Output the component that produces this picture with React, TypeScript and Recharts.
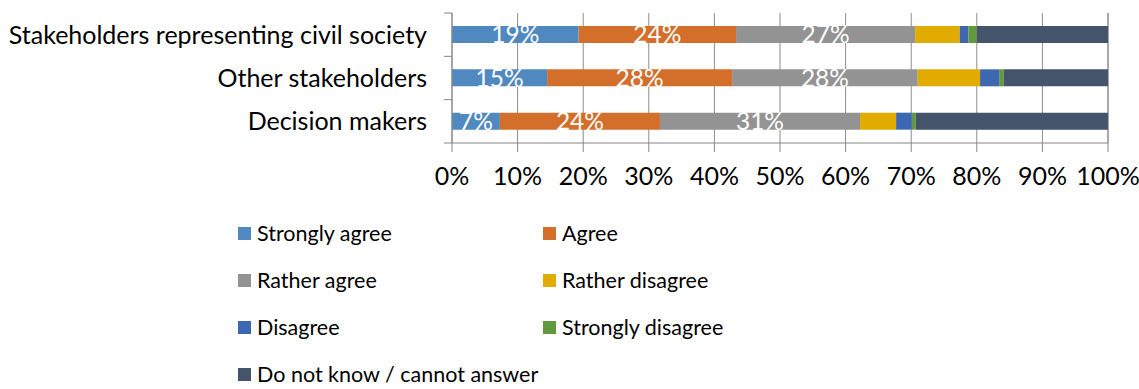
import React from "react";
import {
  BarChart,
  Bar,
  XAxis,
  YAxis,
  CartesianGrid,
  Legend,
  LabelList,
} from "recharts";

const CATEGORIES = [
  "Stakeholders representing civil society",
  "Other stakeholders",
  "Decision makers",
];

const SERIES = [
  { key: "stronglyAgree", label: "Strongly agree", color: "#4F89BF" },
  { key: "agree", label: "Agree", color: "#D46F2B" },
  { key: "ratherAgree", label: "Rather agree", color: "#939393" },
  { key: "ratherDisagree", label: "Rather disagree", color: "#E2AB00" },
  { key: "disagree", label: "Disagree", color: "#3D67B1" },
  { key: "stronglyDisagree", label: "Strongly disagree", color: "#619A3E" },
  { key: "dontKnow", label: "Do not know / cannot answer", color: "#44546A" },
];

// values in %, one per category (same order as CATEGORIES)
const stronglyAgree = [19.3, 14.5, 7.3];
const agree = [24.0, 28.2, 24.4];
const ratherAgree = [27.3, 28.3, 30.5];
const ratherDisagree = [6.8, 9.5, 5.5];
const disagree = [1.3, 2.9, 2.4];
const stronglyDisagree = [1.3, 0.7, 0.6];
const dontKnow = [20.0, 15.9, 29.3];

const X_TICKS = [0, 10, 20, 30, 40, 50, 60, 70, 80, 90, 100];

const data = CATEGORIES.map((name, i) => ({
  name,
  stronglyAgree: stronglyAgree[i],
  agree: agree[i],
  ratherAgree: ratherAgree[i],
  ratherDisagree: ratherDisagree[i],
  disagree: disagree[i],
  stronglyDisagree: stronglyDisagree[i],
  dontKnow: dontKnow[i],
}));

const FONT = "Lato, sans-serif";
const AXIS = "#868686";
const HALF_BAND = 130 / CATEGORIES.length / 2;

const CategoryTick = (props: any) => {
  const { x, y, payload, index } = props;
  return (
    <g>
      <line x1={x - 8} x2={x} y1={y - HALF_BAND} y2={y - HALF_BAND} stroke={AXIS} />
      {index === CATEGORIES.length - 1 && (
        <line x1={x - 8} x2={x} y1={y + HALF_BAND} y2={y + HALF_BAND} stroke={AXIS} />
      )}
      <text
        x={x - 25}
        y={y}
        dy="0.36em"
        textAnchor="end"
        fill="#000"
        fontSize={25}
        fontFamily={FONT}
      >
        {payload.value}
      </text>
    </g>
  );
};

const LegendGrid = () => {
  const cols = [238, 543];
  const rows = [13, 60, 107, 154];
  return (
    <div style={{ position: "relative", width: 1139, height: 170 }}>
      {SERIES.map((s, i) => (
        <div
          key={s.key}
          style={{
            position: "absolute",
            left: cols[i % 2],
            top: rows[Math.floor(i / 2)] - 14,
            height: 24,
            display: "flex",
            alignItems: "center",
            fontFamily: FONT,
            fontSize: 21.5,
            color: "#000",
            whiteSpace: "nowrap",
          }}
        >
          <span
            style={{
              display: "inline-block",
              width: 13,
              height: 13,
              background: s.color,
              marginRight: 6,
            }}
          />
          {s.label}
        </div>
      ))}
    </div>
  );
};

export default function App() {
  return (
    <div style={{ position: "absolute", left: 0, top: 0, width: 1139, height: 389, background: "#fff" }}>
      <BarChart
        width={1139}
        height={389}
        data={data}
        layout="vertical"
        margin={{ top: 13, right: 31, bottom: 0, left: 0 }}
      >
        <CartesianGrid horizontal={false} stroke="#8C8C8C" />
        <XAxis
          type="number"
          domain={[0, 100]}
          ticks={X_TICKS}
          tickFormatter={(v) => `${v}%`}
          height={246}
          tickSize={9}
          tickMargin={15}
          interval={0}
          axisLine={{ stroke: AXIS }}
          tickLine={{ stroke: AXIS }}
          tick={{ fill: "#000", fontSize: 25, fontFamily: FONT }}
        />
        <YAxis
          type="category"
          dataKey="name"
          width={452}
          tickSize={0}
          tickMargin={0}
          tickLine={false}
          axisLine={{ stroke: AXIS }}
          tick={<CategoryTick />}
        />
        <Legend
          layout="horizontal"
          verticalAlign="middle"
          align="center"
          wrapperStyle={{ top: 222, left: 0, width: 1139 }}
          content={() => <LegendGrid />}
        />
        {SERIES.map((s, i) => (
          <Bar
            key={s.key}
            dataKey={s.key}
            name={s.label}
            stackId="a"
            fill={s.color}
            barSize={17}
            isAnimationActive={false}
          >
            {i < 3 && (
              <LabelList
                dataKey={s.key}
                position="center"
                fill="#fff"
                fontSize={24.5}
                fontFamily={FONT}
                formatter={(v: any) => `${Math.round(v)}%`}
              />
            )}
          </Bar>
        ))}
      </BarChart>
    </div>
  );
}
